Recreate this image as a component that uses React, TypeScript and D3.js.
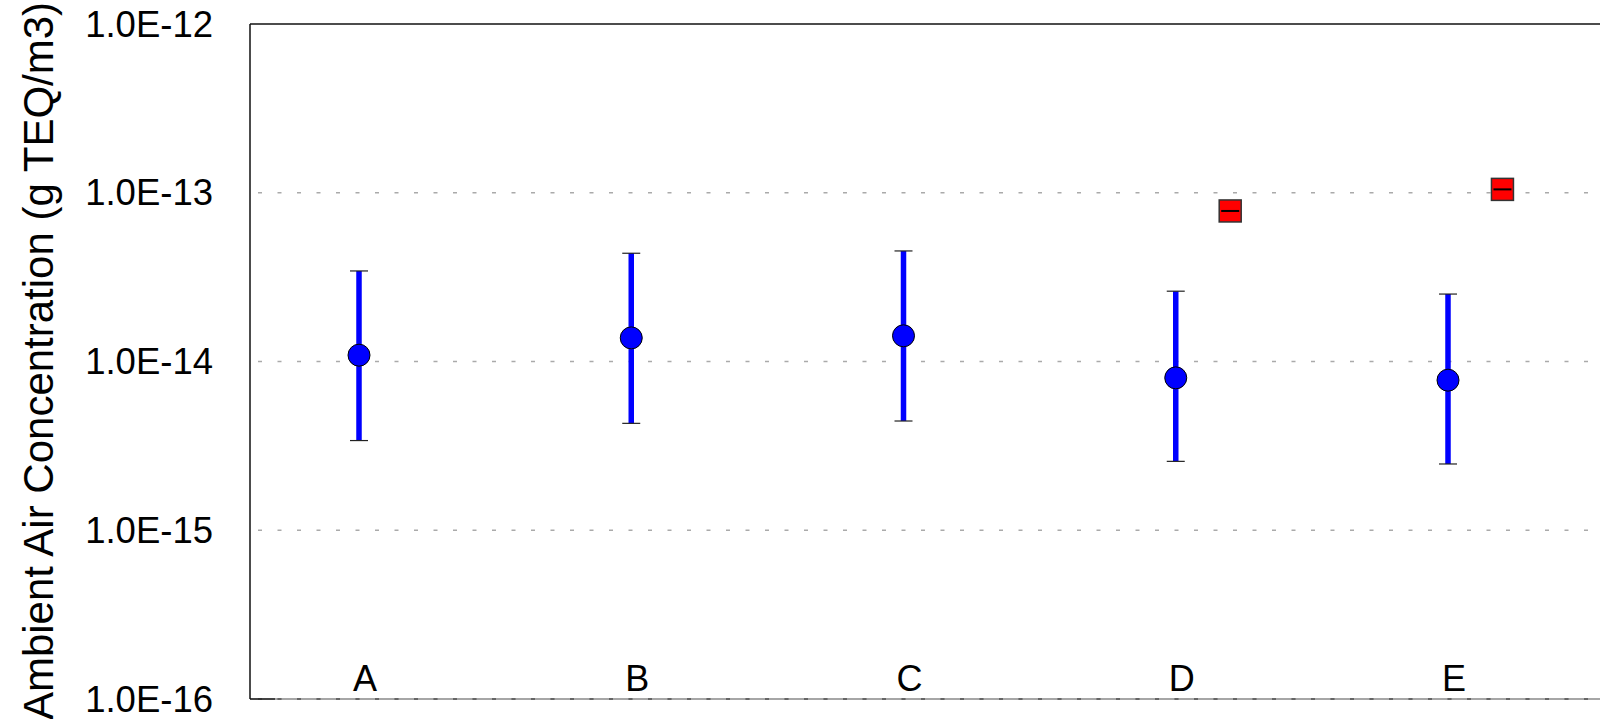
import React from "react";
import * as d3 from "d3";

const categories = ["A", "B", "C", "D", "E"];
const meanValues = [1.09e-14, 1.38e-14, 1.42e-14, 8.0e-15, 7.75e-15];
const upperValues = [3.44e-14, 4.38e-14, 4.52e-14, 2.61e-14, 2.51e-14];
const lowerValues = [3.40e-15, 4.30e-15, 4.44e-15, 2.56e-15, 2.47e-15];
const redCategories = ["D", "E"];
const redValues = [7.8e-14, 1.047e-13];
const yTicks = [1e-16, 1e-15, 1e-14, 1e-13, 1e-12];
const yTickLabels = ["1.0E-16", "1.0E-15", "1.0E-14", "1.0E-13", "1.0E-12"];
const yTitle = "Ambient Air Concentration (g TEQ/m3)";

const W = 1600;
const H = 719;
const left = 250;
const right = 1600;
const top = 24;
const bottom = 699;

export default function App() {
  const y = d3.scaleLog().domain([1e-16, 1e-12]).range([bottom, top]);
  const x = d3.scalePoint<string>().domain(categories).range([359, 1448]);
  const offset = x.step() * 0.2;
  const font = "Arial, 'Liberation Sans', sans-serif";

  return (
    <svg width={W} height={H} style={{ position: "absolute", left: 0, top: 0, background: "#fff" }}>
      {/* grid lines */}
      {yTicks.slice(0, 4).map((t, i) => (
        <line key={"g" + i} x1={left} x2={right} y1={y(t)} y2={y(t)}
          stroke="#aaa" strokeWidth={1.5} strokeDasharray="4,15.5" strokeDashoffset={-8} />
      ))}
      {/* top border */}
      <line x1={left} x2={right} y1={top} y2={top} stroke="#111" strokeWidth={1.5} />
      {/* bottom axis */}
      <line x1={left} x2={right} y1={bottom} y2={bottom} stroke="#888" strokeWidth={1.5} />
      <line x1={left} x2={right} y1={bottom} y2={bottom} stroke="#555" strokeWidth={1.5}
        strokeDasharray="4,15.5" strokeDashoffset={-8} />
      <line x1={left} x2={left + 25} y1={bottom} y2={bottom} stroke="#222" strokeWidth={1.5} />
      {/* left axis */}
      <line x1={left} x2={left} y1={top} y2={bottom} stroke="#111" strokeWidth={1.5} />

      {/* tick labels */}
      {yTicks.map((t, i) => (
        <text key={"t" + i} x={213} y={y(t)} textAnchor="end" dominantBaseline="central"
          fontFamily={font} fontSize={36.5} fill="#000">{yTickLabels[i]}</text>
      ))}
      {/* y title */}
      <text transform={`translate(38, 361) rotate(-90)`} textAnchor="middle"
        dominantBaseline="central" fontFamily={font} fontSize={42} fill="#000">{yTitle}</text>

      {/* category labels */}
      {categories.map((c) => (
        <text key={"c" + c} x={(x(c) as number) + 6} y={691} textAnchor="middle" fontFamily={font}
          fontSize={36} fill="#000">{c}</text>
      ))}

      {/* error bars + points */}
      {categories.map((c, i) => {
        const cx = x(c) as number;
        return (
          <g key={"p" + c}>
            <line x1={cx} x2={cx} y1={y(upperValues[i])} y2={y(lowerValues[i])} stroke="#0000ff" strokeWidth={5.5} />
            <line x1={cx - 9} x2={cx + 9} y1={y(upperValues[i])} y2={y(upperValues[i])} stroke="#222" strokeWidth={1.2} />
            <line x1={cx - 9} x2={cx + 9} y1={y(lowerValues[i])} y2={y(lowerValues[i])} stroke="#222" strokeWidth={1.2} />
            <circle cx={cx} cy={y(meanValues[i])} r={11} fill="#0000ff" stroke="#000" strokeWidth={1} />
          </g>
        );
      })}

      {/* red squares */}
      {redCategories.map((c, i) => {
        const cx = (x(c) as number) + offset;
        const cy = y(redValues[i]);
        return (
          <g key={"r" + c}>
            <rect x={cx - 11} y={cy - 11} width={22} height={22} fill="#ff0000" stroke="#333" strokeWidth={1.5} />
            <line x1={cx - 9} x2={cx + 9} y1={cy} y2={cy} stroke="#000" strokeWidth={2} />
          </g>
        );
      })}
    </svg>
  );
}
